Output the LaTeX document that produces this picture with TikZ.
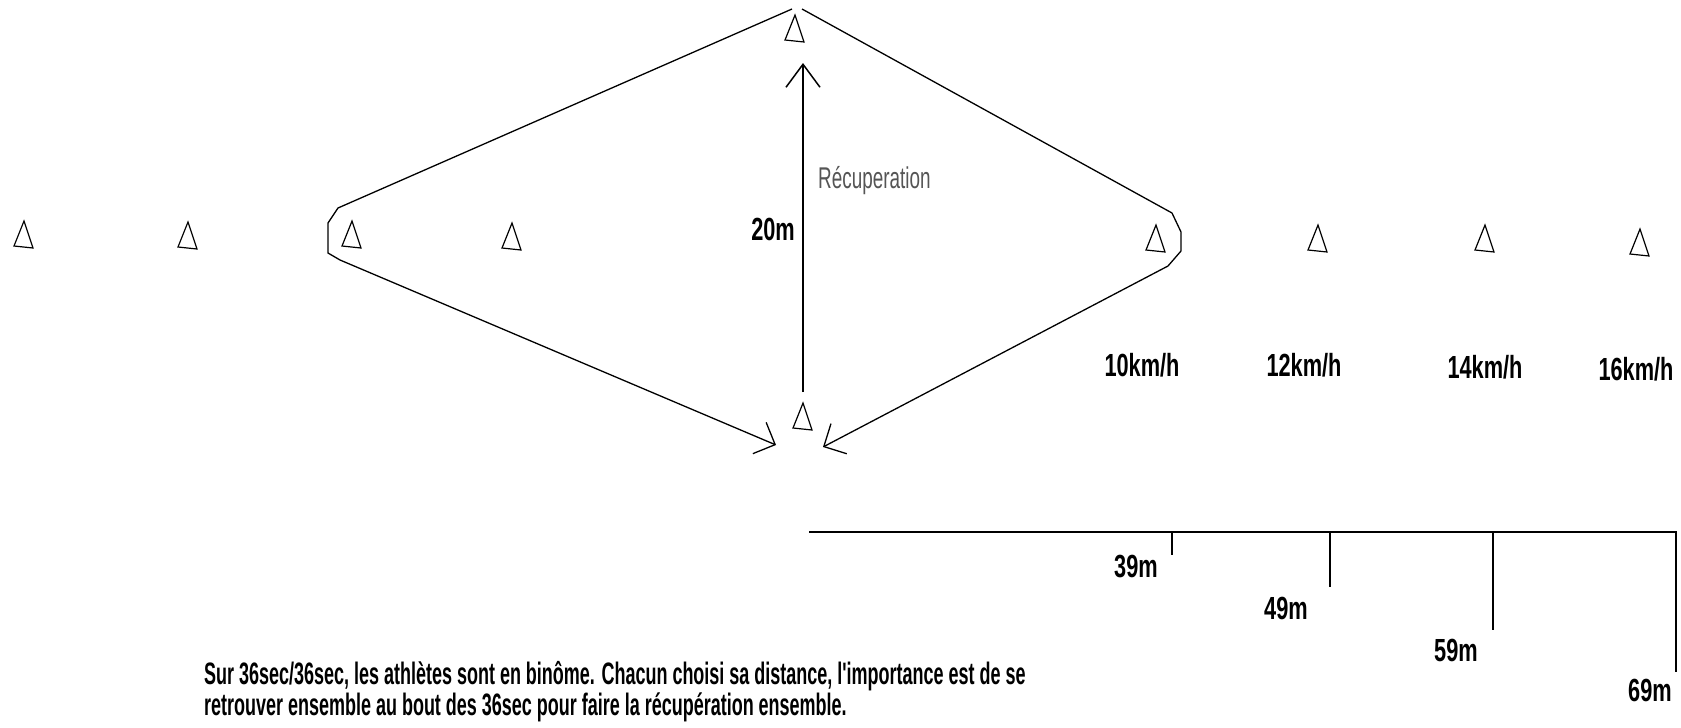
\documentclass[tikz,border=0pt]{standalone}
\usepackage{fontspec}
\usetikzlibrary{arrows.meta}
\newfontfamily\labfont[FakeStretch=0.68]{Liberation Sans}
\newfontfamily\bodyfont[FakeStretch=0.58]{Liberation Sans}
\newfontfamily\recfont[FakeStretch=0.63]{Liberation Sans}
\definecolor{recgray}{HTML}{555555}
\begin{document}
\begin{tikzpicture}[x=1pt,y=-1pt,
  route/.style={line width=1.3pt, line join=miter},
  barb/.style={-{Straight Barb[length=17pt,width=34pt,line width=1.3pt]}},
  bigbarb/.style={-{Straight Barb[length=23pt,width=34pt,line width=1.5pt]}},
  conepic/.pic={\draw[line width=1.2pt] (0,0) -- (-10,25) -- (9,27) -- cycle;},
  lab/.style={font=\labfont\bfseries\fontsize{32}{32}\selectfont, inner sep=0pt},
  rec/.style={font=\recfont\fontsize{30}{30}\selectfont, text=recgray, inner sep=0pt},
  body/.style={font=\bodyfont\bfseries\fontsize{31}{29}\selectfont, inner sep=0pt, align=left},
  scaleline/.style={line width=1.6pt}]
\useasboundingbox (0,0) rectangle (1681,728);
% cones
\foreach \n/\x/\y in {c1/24/221, c2/188/222, c3/352/221, c4/512/223,
                      c5/1156/225, c6/1318/225, c7/1485/225, c8/1640/229,
                      ctop/795/15, cbot/803/403}
  {\coordinate (\n) at (\x,\y); \pic at (\n) {conepic};}
% route points
\coordinate (topL) at (792,9);
\coordinate (topR) at (802,9);
\coordinate (l1) at (338,208);
\coordinate (l2) at (328,223);
\coordinate (l3) at (328,253);
\coordinate (l4) at (340,260);
\coordinate (tipL) at (776,445);
\coordinate (r1) at (1172,213);
\coordinate (r2) at (1181,232);
\coordinate (r3) at (1181,251);
\coordinate (r4) at (1168,266);
\coordinate (tipR) at (823,447);
\draw[route, barb] (topL) -- (l1) -- (l2) -- (l3) -- (l4) -- (tipL);
\draw[route, barb] (topR) -- (r1) -- (r2) -- (r3) -- (r4) -- (tipR);
% recovery arrow
\coordinate (vb) at (803,392);
\coordinate (vt) at (803,63);
\draw[line width=1.6pt, bigbarb] (vb) -- (vt);
\node[lab, anchor=base east] (d20) at (795,240) {20m};
\node[rec, anchor=base west] (recup) at (818,188) {Récuperation};
% speeds
\node[lab, anchor=base] (s10) at (1142,376) {10km/h};
\node[lab, anchor=base] (s12) at (1304,376) {12km/h};
\node[lab, anchor=base] (s14) at (1485,378) {14km/h};
\node[lab, anchor=base] (s16) at (1636,380) {16km/h};
% distance scale
\coordinate (h0) at (809,532);
\coordinate (t1) at (1172,532);
\coordinate (t2) at (1330,532);
\coordinate (t3) at (1493,532);
\coordinate (t4) at (1676,532);
\coordinate (b1) at (1172,555);
\coordinate (b2) at (1330,587);
\coordinate (b3) at (1493,630);
\coordinate (b4) at (1676,672);
\draw[scaleline] (h0) -- (t4) -- (b4);
\draw[scaleline] (t1) -- (b1);
\draw[scaleline] (t2) -- (b2);
\draw[scaleline] (t3) -- (b3);
\node[lab, anchor=base] (m39) at (1136,577) {39m};
\node[lab, anchor=base] (m49) at (1286,619) {49m};
\node[lab, anchor=base] (m59) at (1456,661) {59m};
\node[lab, anchor=base] (m69) at (1650,701) {69m};
% text
\node[body, anchor=base west] (txt) at (204,715)
  {Sur 36sec/36sec, les athlètes sont en binôme. Chacun choisi sa distance, l'importance est de se\\
   retrouver ensemble au bout des 36sec pour faire la récupération ensemble.};
\end{tikzpicture}
\end{document}
